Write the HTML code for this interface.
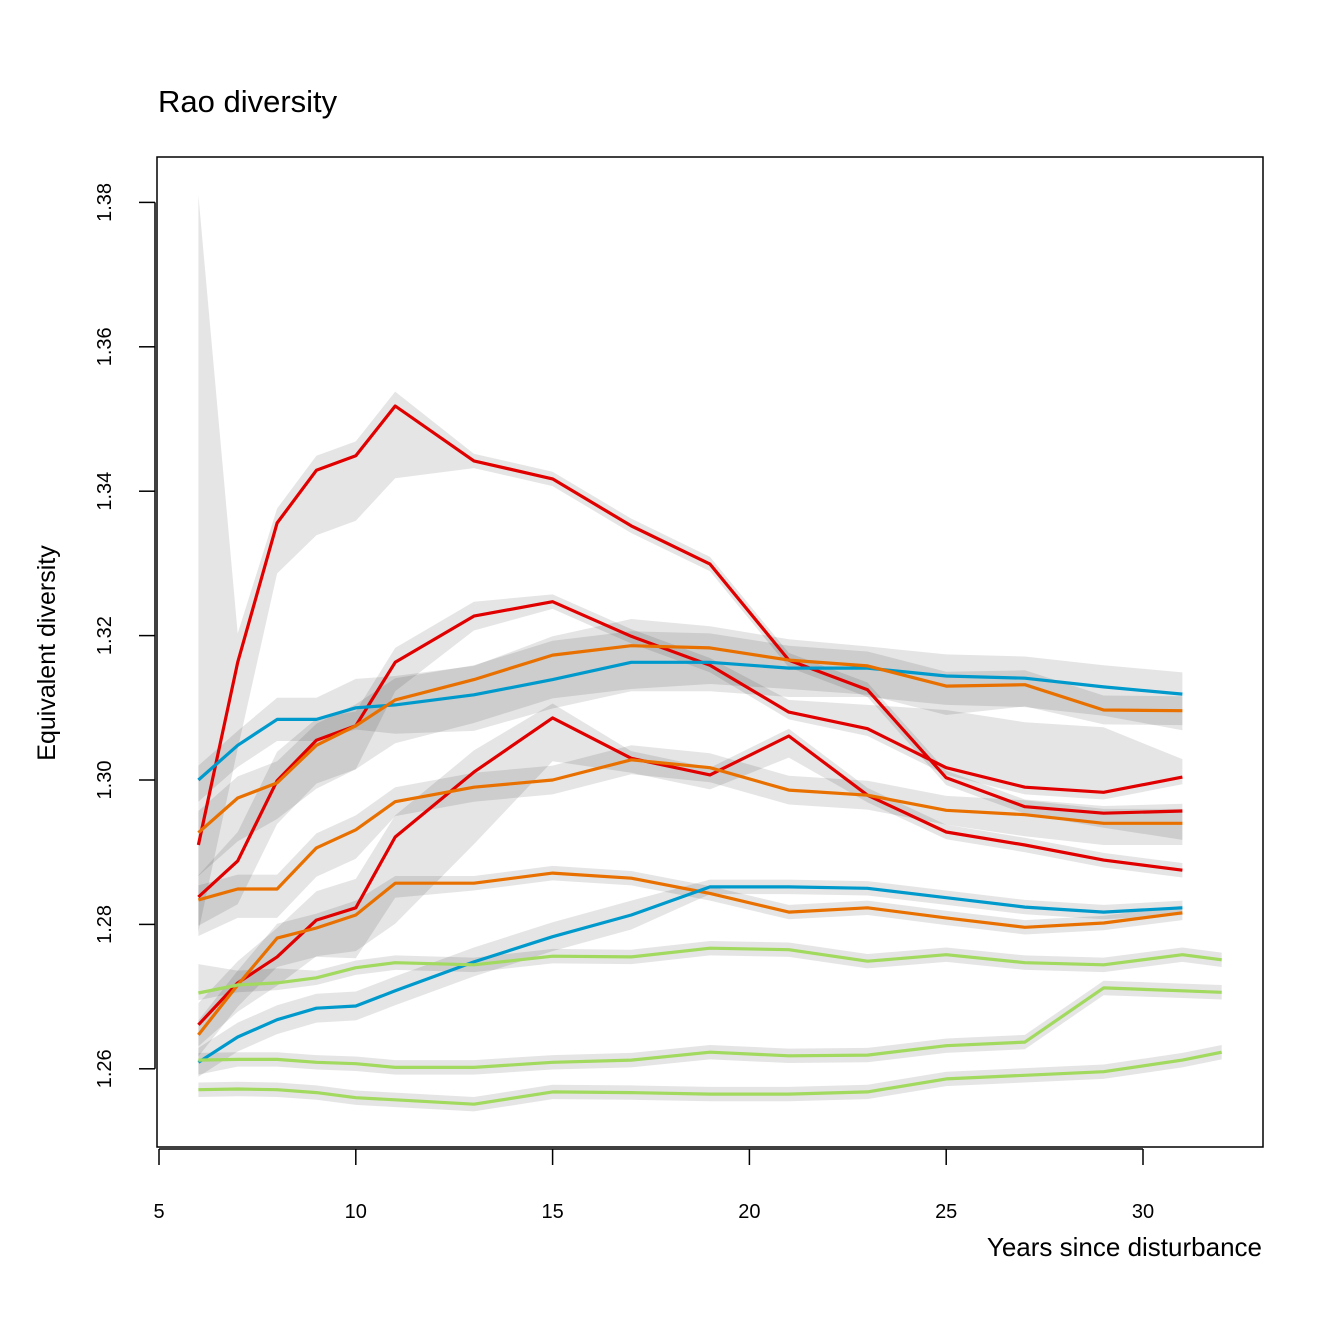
<!DOCTYPE html>
<html><head><meta charset="utf-8"><style>
body{margin:0;background:#fff}
svg{display:block;font-family:"Liberation Sans",Arial,sans-serif}
</style></head><body>
<svg id="chart" width="1344" height="1344" viewBox="0 0 1344 1344">
<rect width="1344" height="1344" fill="#fff"/>
<text x="158" y="112" font-size="31">Rao diversity</text>
<g id="bands"></g>
<g id="lines"></g>
<rect x="157" y="157" width="1106" height="990" fill="none" stroke="#000" stroke-width="1.5"/>
<g id="xaxis"></g>
<g id="yaxis"></g>
<text x="1262" y="1256" font-size="26" text-anchor="end">Years since disturbance</text>
<text transform="translate(55,653) rotate(-90)" font-size="25" text-anchor="middle">Equivalent diversity</text>
</svg>
<script>
const xTicks=[5,10,15,20,25,30];
const yTicks=[1.26,1.28,1.30,1.32,1.34,1.36,1.38];
const yTickLabels=["1.26","1.28","1.30","1.32","1.34","1.36","1.38"];
const years=[6,7,8,9,10,11,13,15,17,19,21,23,25,27,29,31];
const yearsG=[6,7,8,9,10,11,13,15,17,19,21,23,25,27,29,31,32];
const red1=[1.291,1.3163,1.3356,1.3429,1.3449,1.3518,1.3442,1.3417,1.3352,1.3299,1.3166,1.3125,1.3003,1.2963,1.2954,1.2957];
const red2=[1.2838,1.2888,1.2999,1.3055,1.3075,1.3163,1.3227,1.3247,1.3199,1.3159,1.3094,1.3071,1.3017,1.299,1.2983,1.3004];
const red3=[1.2661,1.2719,1.2755,1.2806,1.2823,1.2921,1.3011,1.3086,1.303,1.3007,1.3061,1.2979,1.2928,1.291,1.2889,1.2875];
const blue1=[1.300,1.3048,1.3084,1.3084,1.310,1.3104,1.3118,1.3139,1.3163,1.3163,1.3155,1.3155,1.3144,1.3141,1.3129,1.3119];
const orange1=[1.2927,1.2975,1.2996,1.3048,1.3075,1.3111,1.3139,1.3173,1.3186,1.3183,1.3166,1.3158,1.313,1.3132,1.3097,1.3096];
const orange2=[1.2834,1.2849,1.2849,1.2906,1.2931,1.297,1.299,1.3,1.3028,1.3017,1.2986,1.2979,1.2958,1.2952,1.294,1.294];
const orange3=[1.2647,1.2716,1.2781,1.2795,1.2813,1.2857,1.2857,1.2871,1.2864,1.2843,1.2817,1.2823,1.2809,1.2796,1.2802,1.2816];
const blue2=[1.2609,1.2644,1.2668,1.2684,1.2687,1.2708,1.2748,1.2783,1.2813,1.2852,1.2852,1.285,1.2837,1.2824,1.2817,1.2823];
const green1=[1.2705,1.2716,1.2719,1.2726,1.274,1.2747,1.2744,1.2756,1.2755,1.2767,1.2765,1.2749,1.2758,1.2747,1.2744,1.2758,1.2751];
const green2=[1.2612,1.2613,1.2613,1.2609,1.2607,1.2602,1.2602,1.2609,1.2612,1.2623,1.2618,1.2619,1.2632,1.2637,1.2712,1.2708,1.2706];
const green3=[1.2571,1.2572,1.2571,1.2567,1.256,1.2557,1.2551,1.2568,1.2567,1.2565,1.2565,1.2568,1.2586,1.2591,1.2596,1.2612,1.2623];
// band half-widths (upper / lower) in data units
const red1Hi=[0.09,0.004,0.002,0.002,0.002,0.002,0.001,0.001,0.001,0.001,0.001,0.001,0.001,0.001,0.001,0.001];
const red1Lo=[0.012,0.012,0.007,0.009,0.009,0.01,0.001,0.001,0.001,0.001,0.001,0.001,0.001,0.001,0.002,0.004];
const red2Hi=[0.003,0.004,0.004,0.003,0.002,0.002,0.002,0.001,0.001,0.001,0.0017,0.0033,0.008,0.009,0.009,0.0025];
const red2Lo=[0.004,0.006,0.006,0.006,0.006,0.004,0.002,0.001,0.001,0.001,0.001,0.001,0.001,0.001,0.001,0.001];
const red3Hi=[0.003,0.003,0.004,0.004,0.004,0.003,0.003,0.002,0.001,0.001,0.001,0.001,0.001,0.001,0.001,0.001];
const red3Lo=[0.003,0.004,0.004,0.005,0.006,0.012,0.01,0.006,0.002,0.002,0.003,0.001,0.001,0.001,0.001,0.001];
const blue1Hi=[0.002,0.002,0.003,0.003,0.004,0.004,0.004,0.006,0.006,0.005,0.004,0.003,0.003,0.003,0.003,0.003];
const blue1Lo=[0.003,0.003,0.003,0.003,0.003,0.004,0.005,0.004,0.004,0.004,0.004,0.004,0.004,0.004,0.004,0.005];
const orange1Hi=[0.003,0.003,0.003,0.003,0.003,0.003,0.002,0.002,0.002,0.002,0.002,0.002,0.002,0.002,0.002,0.002];
const orange1Lo=[0.006,0.006,0.005,0.006,0.006,0.006,0.006,0.006,0.006,0.005,0.004,0.004,0.004,0.003,0.002,0.002];
const orange2Hi=[0.002,0.002,0.002,0.002,0.002,0.002,0.002,0.002,0.002,0.002,0.002,0.002,0.002,0.002,0.002,0.002];
const orange2Lo=[0.005,0.004,0.004,0.004,0.004,0.002,0.002,0.002,0.002,0.002,0.002,0.002,0.002,0.003,0.003,0.003];
const orange3Hi=[0.002,0.002,0.002,0.002,0.002,0.001,0.001,0.001,0.001,0.001,0.001,0.001,0.001,0.001,0.001,0.001];
const orange3Lo=[0.003,0.003,0.004,0.004,0.006,0.002,0.001,0.001,0.001,0.001,0.001,0.001,0.001,0.001,0.001,0.001];
const blue2Hi=[0.002,0.002,0.002,0.002,0.002,0.002,0.002,0.002,0.002,0.001,0.001,0.001,0.001,0.001,0.001,0.001];
const blue2Lo=[0.002,0.002,0.002,0.002,0.002,0.002,0.002,0.002,0.002,0.001,0.001,0.001,0.001,0.001,0.001,0.001];
const g1Hi=[0.004,0.002,0.002,0.001,0.001,0.001,0.001,0.001,0.001,0.001,0.001,0.001,0.001,0.001,0.001,0.001,0.001];
const g1Lo=[0.001,0.001,0.001,0.001,0.001,0.001,0.001,0.001,0.001,0.001,0.001,0.001,0.001,0.001,0.001,0.001,0.001];
const g2Hi=[0.001,0.001,0.001,0.001,0.001,0.001,0.001,0.001,0.001,0.001,0.001,0.001,0.001,0.001,0.001,0.001,0.001];
const g2Lo=[0.002,0.001,0.001,0.001,0.001,0.001,0.001,0.001,0.001,0.001,0.001,0.001,0.001,0.001,0.001,0.001,0.001];
const g3Hi=[0.001,0.001,0.001,0.001,0.001,0.001,0.001,0.001,0.001,0.001,0.001,0.001,0.001,0.001,0.001,0.001,0.001];
const g3Lo=[0.001,0.001,0.001,0.001,0.001,0.001,0.001,0.001,0.001,0.001,0.001,0.001,0.001,0.001,0.001,0.001,0.001];

const RED="#e00000",ORANGE="#e87000",BLUE="#0099cc",GREEN="#a2d95f";
const series=[
 {name:"red-1",x:years,y:red1,hi:red1Hi,lo:red1Lo,c:RED},
 {name:"red-2",x:years,y:red2,hi:red2Hi,lo:red2Lo,c:RED},
 {name:"red-3",x:years,y:red3,hi:red3Hi,lo:red3Lo,c:RED},
 {name:"blue-1",x:years,y:blue1,hi:blue1Hi,lo:blue1Lo,c:BLUE},
 {name:"orange-1",x:years,y:orange1,hi:orange1Hi,lo:orange1Lo,c:ORANGE},
 {name:"orange-2",x:years,y:orange2,hi:orange2Hi,lo:orange2Lo,c:ORANGE},
 {name:"orange-3",x:years,y:orange3,hi:orange3Hi,lo:orange3Lo,c:ORANGE},
 {name:"blue-2",x:years,y:blue2,hi:blue2Hi,lo:blue2Lo,c:BLUE},
 {name:"green-1",x:yearsG,y:green1,hi:g1Hi,lo:g1Lo,c:GREEN},
 {name:"green-2",x:yearsG,y:green2,hi:g2Hi,lo:g2Lo,c:GREEN},
 {name:"green-3",x:yearsG,y:green3,hi:g3Hi,lo:g3Lo,c:GREEN}
];
const sx=v=>159+(v-5)*(1143-159)/25;
const sy=v=>780-(v-1.30)*7220;
const NS="http://www.w3.org/2000/svg";
const mk=(t,a,p)=>{const e=document.createElementNS(NS,t);for(const k in a)e.setAttribute(k,a[k]);p.appendChild(e);return e;};
const bands=document.getElementById('bands'),lines=document.getElementById('lines');
series.forEach(s=>{
 const up=s.x.map((x,i)=>sx(x).toFixed(1)+","+sy(s.y[i]+s.hi[i]).toFixed(1));
 const dn=s.x.map((x,i)=>sx(x).toFixed(1)+","+sy(s.y[i]-s.lo[i]).toFixed(1)).reverse();
 const b=mk('polygon',{points:up.concat(dn).join(' '),fill:'rgba(0,0,0,0.1)'},bands);
 
 
});
series.forEach(s=>{
 const pts=s.x.map((x,i)=>sx(x).toFixed(1)+","+sy(s.y[i]).toFixed(1)).join(' ');
 const l=mk('polyline',{points:pts,fill:'none',stroke:s.c,'stroke-width':3.2,'stroke-linejoin':'round'},lines);
 
 
});
const xa=document.getElementById('xaxis');
mk('line',{x1:sx(5),x2:sx(30),y1:1149,y2:1149,stroke:'#000','stroke-width':1.5},xa);
xTicks.forEach(t=>{
 mk('line',{x1:sx(t),x2:sx(t),y1:1149,y2:1165,stroke:'#000','stroke-width':1.5},xa);
 const tx=mk('text',{x:sx(t),y:1218,'font-size':20,'text-anchor':'middle'},xa);
 tx.textContent=t;
 
 
});
const ya=document.getElementById('yaxis');
mk('line',{x1:155,x2:155,y1:sy(1.26),y2:sy(1.38),stroke:'#000','stroke-width':1.5},ya);
yTicks.forEach((t,i)=>{
 mk('line',{x1:139,x2:155,y1:sy(t),y2:sy(t),stroke:'#000','stroke-width':1.5},ya);
 const tx=mk('text',{transform:`translate(111,${sy(t)}) rotate(-90)`,'font-size':20,'text-anchor':'middle'},ya);
 tx.textContent=yTickLabels[i];
 
 
});
</script>
</body></html>
